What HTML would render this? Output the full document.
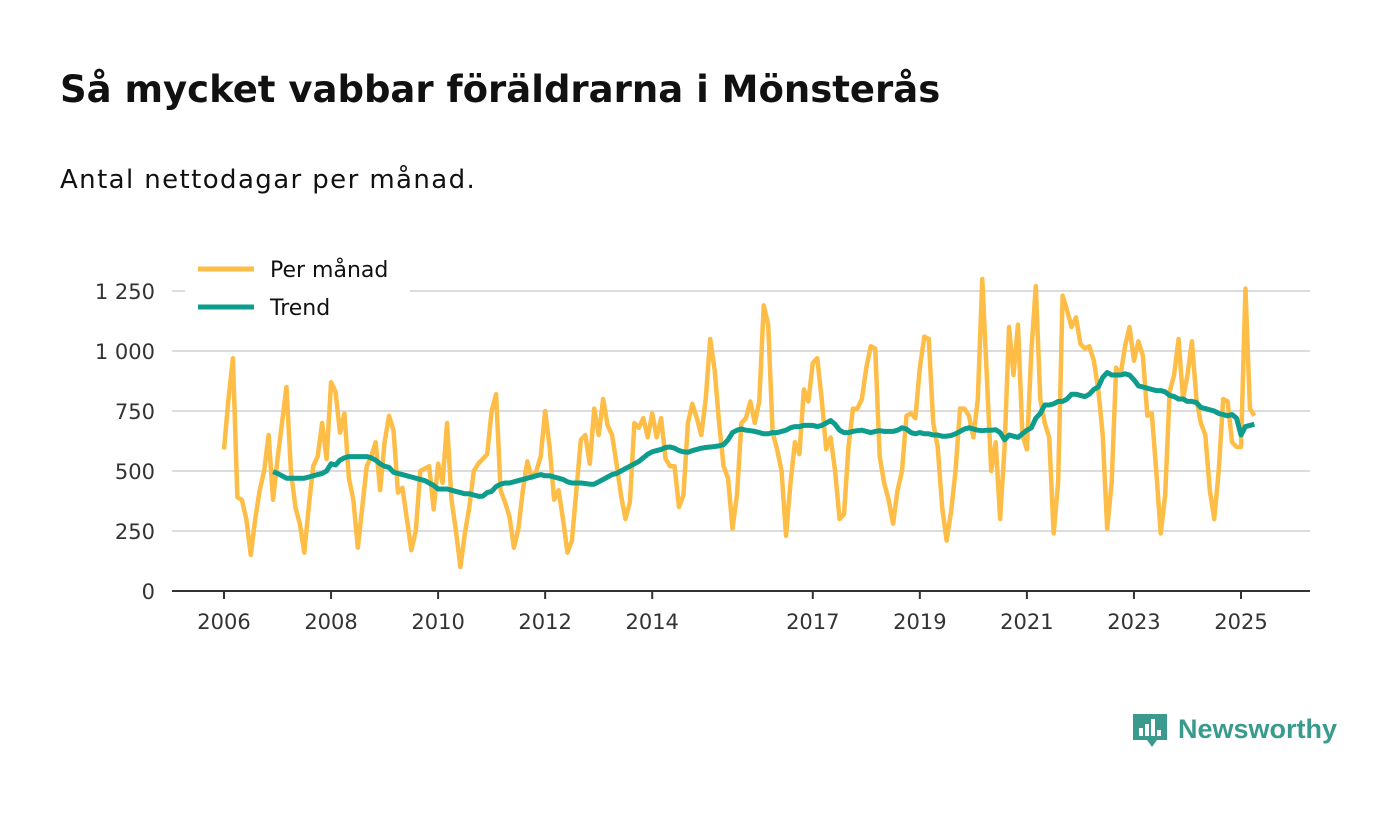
<!DOCTYPE html>
<html><head><meta charset="utf-8">
<style>
body{margin:0;background:#fff;width:1400px;height:813px;overflow:hidden;font-family:"Liberation Sans","DejaVu Sans",sans-serif;}
h1{position:absolute;left:60px;top:68px;margin:0;font-size:37px;font-weight:bold;color:#111;font-family:"DejaVu Sans",sans-serif;letter-spacing:0px;white-space:nowrap;}
.sub{position:absolute;left:60px;top:165px;font-size:26px;color:#111;font-family:"DejaVu Sans",sans-serif;letter-spacing:1.4px;white-space:nowrap;}
svg{position:absolute;left:0;top:0;}
</style></head><body>
<h1>Så mycket vabbar föräldrarna i Mönsterås</h1>
<div class="sub">Antal nettodagar per månad.</div>
<svg id="chart" width="1400" height="813"></svg>
<script>
const startYear = 2006;
const yTicks = [0,250,500,750,1000,1250];
const yTickLabels = ["0","250","500","750","1 000","1 250"];
const xTickYears = [2006,2008,2010,2012,2014,2017,2019,2021,2023,2025];
const monthly = [
590,800,970,390,380,300,150,300,420,500,650,380,
550,700,850,500,350,280,160,350,520,560,700,550,
870,830,660,740,470,380,180,350,520,560,620,420,
620,730,670,410,430,300,170,250,500,510,520,340,
530,450,700,380,250,100,240,350,500,530,550,570,
750,820,420,370,310,180,260,420,540,470,500,560,
750,600,380,420,300,160,210,420,630,650,530,760,
650,800,690,650,530,400,300,370,700,680,720,640,
740,640,720,550,520,520,350,400,700,780,720,650,
800,1050,920,700,520,470,260,400,700,720,790,700,
790,1190,1110,660,590,500,230,450,620,570,840,790,
950,970,800,590,640,500,300,320,600,760,760,800,
930,1020,1010,560,450,380,280,420,500,730,740,720,
930,1060,1050,700,600,350,210,330,500,760,760,730,
640,800,1300,900,500,620,300,600,1100,900,1110,650,
590,1000,1270,800,700,640,240,450,1230,1170,1100,1140,
1030,1010,1020,960,840,650,260,450,930,900,1020,1100,
960,1040,980,730,740,500,240,400,830,900,1050,800,
900,1040,800,700,650,420,300,500,800,790,620,600,
600,1260,760,730];
const trendStart = 11;
const trend = [
497,
490,480,470,470,470,470,470,475,480,485,490,500,
530,525,545,555,560,560,560,560,560,555,545,530,
520,515,495,490,485,480,475,470,465,460,450,440,
425,425,425,420,415,410,405,405,400,395,395,410,
415,435,445,450,450,455,460,465,470,475,480,485,
480,480,475,470,465,455,450,450,450,448,445,445,
455,465,475,485,490,500,510,520,530,540,555,570,
580,585,590,598,600,595,585,580,578,585,590,595,
598,600,602,605,610,630,660,670,675,670,668,665,
660,655,655,660,660,665,670,680,685,685,690,690,
690,685,690,700,710,695,670,660,660,665,668,670,
665,660,665,668,665,665,665,670,680,675,660,655,
660,655,655,650,650,645,645,648,655,665,675,680,
675,670,668,670,670,672,660,630,650,645,640,655,
670,680,720,740,775,775,780,790,790,800,820,820,
815,810,820,840,850,890,910,900,900,900,905,900,
880,855,850,845,840,835,835,830,815,810,800,800,
790,790,785,765,760,755,750,740,735,730,735,720,
650,685,690,695];

const NS='http://www.w3.org/2000/svg';
const svg=document.getElementById('chart');
const X0=224, PER_YEAR=(1241-224)/19;
const xm = i => X0 + i*PER_YEAR/12;
const yv = v => 591 - v*0.24;
function mk(tag, attrs){const e=document.createElementNS(NS,tag);for(const k in attrs)e.setAttribute(k,attrs[k]);svg.appendChild(e);return e;}

yTicks.forEach((t,i)=>{
  if(t>0){const g=mk('line',{x1:172,x2:1310,y1:yv(t),y2:yv(t),stroke:'#dcdcdc','stroke-width':2});
  
  }
  const tx=mk('text',{x:155,y:yv(t)+8,'text-anchor':'end','font-size':21,fill:'#333','font-family':'DejaVu Sans, sans-serif'});
  tx.textContent=yTickLabels[i];
  
  
});
const ax=mk('line',{x1:172,x2:1310,y1:591,y2:591,stroke:'#333','stroke-width':2});


xTickYears.forEach(yr=>{
  const x=xm((yr-startYear)*12);
  const tk=mk('line',{x1:x,x2:x,y1:591,y2:599,stroke:'#333','stroke-width':2});
  
  
  const tx=mk('text',{x:x,y:629,'text-anchor':'middle','font-size':21,fill:'#333','font-family':'DejaVu Sans, sans-serif'});
  tx.textContent=yr;
  
  
});
const p1=mk('polyline',{points:monthly.map((v,i)=>xm(i)+','+yv(v)).join(' '),fill:'none',stroke:'#fdbd47','stroke-width':4.5,'stroke-linejoin':'round'});


const p2=mk('polyline',{points:trend.map((v,i)=>xm(i+trendStart)+','+yv(v)).join(' '),fill:'none',stroke:'#0e9c8c','stroke-width':5,'stroke-linejoin':'round'});



const lbg=mk('rect',{x:185,y:250,width:225,height:80,fill:'#fff'});


[['Per månad','#fdbd47',269],['Trend','#0e9c8c',307]].forEach(([n,c,y])=>{
  const l=mk('line',{x1:198,x2:254,y1:y,y2:y,stroke:c,'stroke-width':5});
  
  
  const t=mk('text',{x:270,y:y+8,'font-size':22,fill:'#111','font-family':'DejaVu Sans, sans-serif'});
  t.textContent=n;
  
  
});
</script>
<svg width="1400" height="813">
<path d="M1133 714h34v26h-10l-5 7-5-7h-14z" fill="#3a9a8e"/>
<rect x="1139" y="728" width="4" height="8" fill="#fff"/><rect x="1145" y="724" width="4" height="12" fill="#fff"/><rect x="1151" y="719" width="4" height="17" fill="#fff"/><rect x="1157" y="730" width="4" height="6" fill="#fff"/>
<text x="1178" y="738" font-size="27" font-weight="bold" fill="#3a9a8e" font-family="Liberation Sans, sans-serif">Newsworthy</text>
</svg>
</body></html>
